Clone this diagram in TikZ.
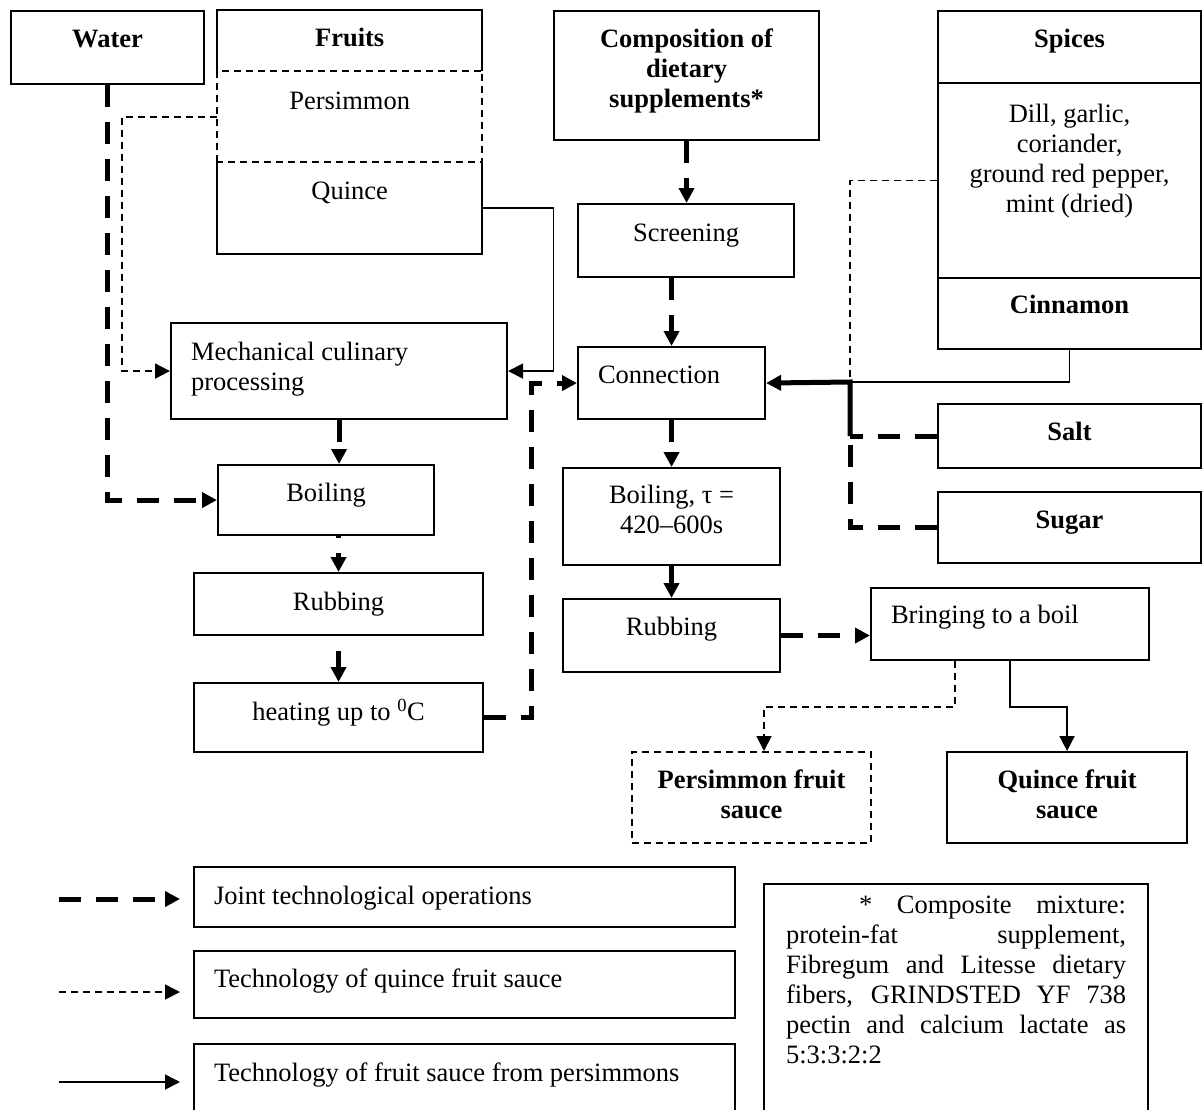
\documentclass[tikz,border=0pt]{standalone}
\usepackage{fontspec}
\setmainfont{Liberation Serif}
\usetikzlibrary{arrows.meta,calc}
\newcommand\ctbox[4][36]{\parbox[c][#3pt][t]{#2pt}{\centering\rule{0pt}{#1pt}#4}}
\newcommand\lfbox[4][36]{\parbox[c][#3pt][t]{#2pt}{\raggedright\leftskip=20pt\rule{0pt}{#1pt}#4}}
\begin{document}
\begin{tikzpicture}[x=1pt,y=-1pt,
  font=\fontsize{26.5}{30}\selectfont,
  box/.style={draw,line width=2.1pt,inner sep=0pt,anchor=north west},
  plainbox/.style={inner sep=0pt,anchor=north west},
  arrowtip/.style={-{Triangle[length=15pt,width=15pt]}},
  joint/.style={line width=5pt,dash pattern=on 22pt off 15pt,arrowtip},
  jointline/.style={line width=5pt,dash pattern=on 22pt off 15pt},
  heavy/.style={line width=5pt,arrowtip},
  quin/.style={line width=1.8pt,dash pattern=on 7pt off 5pt,arrowtip},
  quinline/.style={line width=1.8pt,dash pattern=on 7pt off 5pt},
  pers/.style={line width=1.8pt,arrowtip},
  persline/.style={line width=1.8pt}]
\useasboundingbox (0,0) rectangle (1202,1109);
\clip (0,0) rectangle (1202,1109);

% --- top row
\node[box] (water) at (10,10) {\ctbox{193}{73}{\bfseries Water}};
\node[plainbox] (fruitsHead) at (217,10) {\ctbox{265}{61}{\bfseries Fruits}};
\node[plainbox] (persim) at (217,71) {\ctbox[38]{265}{91}{Persimmon}};
\node[plainbox] (quince) at (217,162) {\ctbox[37]{265}{92}{Quince}};
\draw[line width=2.1pt] (fruitsHead.south west) -- (fruitsHead.north west) -- (fruitsHead.north east) -- (fruitsHead.south east);
\draw[line width=2.1pt,dash pattern=on 7pt off 5pt] (persim.south west) rectangle (persim.north east);
\draw[line width=2.1pt] (quince.north west) -- (quince.south west) -- (quince.south east) -- (quince.north east);

\node[box] (comp) at (553,10) {\ctbox{265}{129}{\bfseries Composition of\\dietary\\supplements*}};
\node[box] (spicesHead) at (937,10) {\ctbox{263}{72}{\bfseries Spices}};
\node[box] (spicesBody) at (937,82) {\ctbox[39]{263}{195}{Dill, garlic,\\coriander,\\ground red pepper,\\mint (dried)}};
\node[box] (cinnamon) at (937,277) {\ctbox[35]{263}{71}{\bfseries Cinnamon}};

% --- process boxes
\node[box] (screening) at (577,203) {\ctbox[37]{216}{73}{Screening}};
\node[box] (mech) at (170,322) {\lfbox[37]{336}{96}{Mechanical culinary\\processing}};
\node[box] (connection) at (577,346) {\lfbox{187}{72}{Connection}};
\node[box] (boilL) at (217,464) {\ctbox{216}{70}{Boiling}};
\node[box] (salt) at (937,403) {\ctbox{263}{64}{\bfseries Salt}};
\node[box] (sugar) at (937,491) {\ctbox{263}{71}{\bfseries Sugar}};
\node[box] (boilR) at (562,467) {\ctbox[35]{217}{97}{Boiling, τ =\\420–600s}};
\node[box] (rubL) at (193,572) {\ctbox[37]{289}{62}{Rubbing}};
\node[box] (rubR) at (562,598) {\ctbox{217}{73}{Rubbing}};
\node[box] (bring) at (870,587) {\lfbox[35]{278}{72}{Bringing to a boil}};
\node[box] (heat) at (193,682) {\ctbox[37]{289}{69}{heating up to \textsuperscript{0}C}};
\node[box,dash pattern=on 7pt off 5pt] (persSauce) at (631,751) {\ctbox{239}{91}{\bfseries Persimmon fruit\\sauce}};
\node[box] (quinceSauce) at (946,751) {\ctbox{240}{91}{\bfseries Quince fruit\\sauce}};

% --- legend
\node[box] (leg1) at (193,866) {\lfbox[37]{541}{60}{Joint technological operations}};
\node[box] (leg2) at (193,950) {\lfbox{541}{67}{Technology of quince fruit sauce}};
\node[box] (leg3) at (193,1043) {\lfbox[37]{541}{100}{Technology of fruit sauce from persimmons}};
\node[box] (note) at (763,883) {\parbox[c][260pt][t]{384pt}{\leftskip=22pt\rightskip=22pt\rule{0pt}{29pt}\hspace*{73pt}* Composite mixture:\linebreak protein-fat supplement,\linebreak Fibregum and Litesse dietary\linebreak fibers, GRINDSTED YF 738\linebreak pectin and calcium lactate as\linebreak 5:3:3:2:2}};

\coordinate (l1s) at (59,899); \coordinate (l1e) at (180,899);
\coordinate (l2s) at (59,992); \coordinate (l2e) at (180,992);
\coordinate (l3s) at (59,1082); \coordinate (l3e) at (180,1082);
\draw[joint] (l1s) -- (l1e);
\draw[quin] (l2s) -- (l2e);
\draw[pers] (l3s) -- (l3e);

% --- connectors
\draw[joint] (water.south) |- (boilL.west);
\draw[quin] (persim.west) -- ++(-95,0) |- (mech.west);
\draw[pers] (quince.east) -- ++(71,0) |- (mech.east);
\draw[joint] (comp.south) -- (comp.south |- screening.north);
\draw[joint] (screening.south -| connection.north) -- (connection.north);
\draw[joint] (mech.south) -- (mech.south |- boilL.north);
\draw[joint,dash phase=20pt] (boilL.south -| rubL.north) -- (rubL.north);
\draw[joint,dash phase=22pt] (rubL.south) -- (heat.north);
\draw[joint] (heat.east) -- ++(47,0) |- (connection.west);

\coordinate (jn) at (850,382);
\draw[persline] (cinnamon.south) |- (jn);
\draw[quinline] (spicesBody.west) -| (jn);
\draw[jointline] (sugar.west) -| (salt.west -| jn);
\draw[jointline] (salt.west) -- (salt.west -| jn);
\draw[heavy] (salt.west -| jn) -- (jn) -- (connection.east);

\draw[joint] (connection.south) -- (boilR.north);
\draw[heavy] (boilR.south) -- (rubR.north);
\draw[joint] (rubR.east) -- (rubR.east -| bring.west);
\draw[quin] ($(bring.south west)+(85,0)$) -- ++(0,46) -| ($(persSauce.north west)+(133,0)$);
\draw[pers] (bring.south) -- ++(0,46) -| (quinceSauce.north);
\end{tikzpicture}
\end{document}
